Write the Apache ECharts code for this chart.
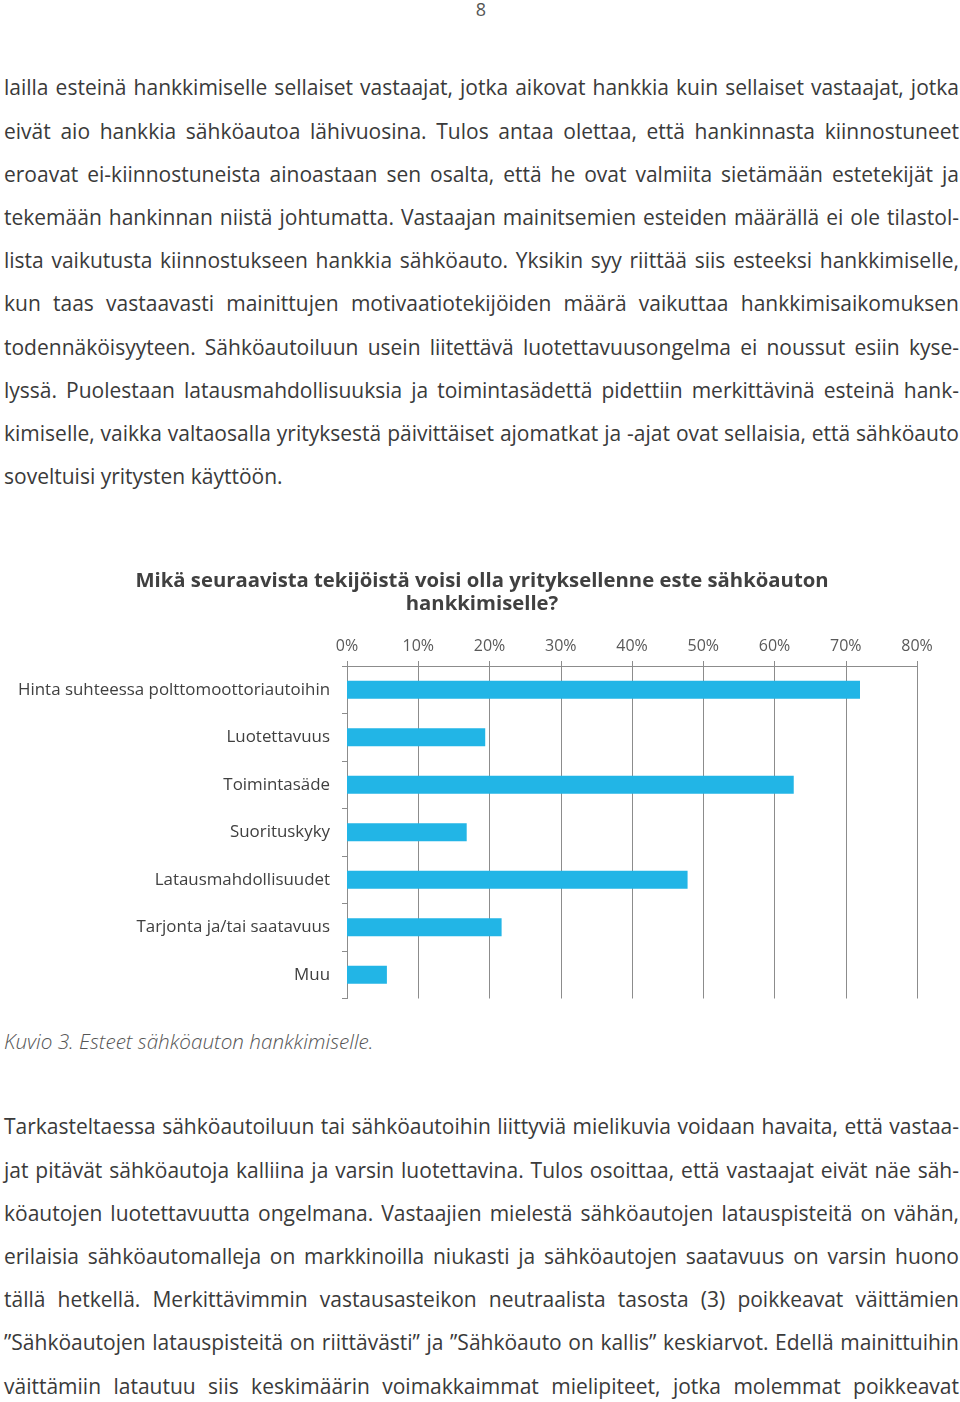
<!DOCTYPE html>
<html>
<head>
<meta charset="utf-8">
<script src="https://cdn.jsdelivr.net/npm/echarts@6/dist/echarts.min.js"></script>
<style>
  html, body { margin: 0; padding: 0; background: #fff; }
  body { width: 960px; height: 1402px; position: relative; overflow: hidden; font-family: 'Open Sans', sans-serif; color: #3a3a3a; }
  .pagenum { position: absolute; top: -2px; left: 0; width: 962px; text-align: center; font-size: 18px; color: #555; line-height: 22px; }
  .para { position: absolute; left: 4px; width: 955px; font-size: 21px; }
  .para .l { height: 43.2px; line-height: 43.2px; white-space: nowrap; text-align: justify; text-align-last: justify; }
  .para .l.last { text-align-last: left; }
  .caption { position: absolute; left: 4px; top: 1026px; font-size: 20.7px; line-height: 30px; font-style: italic; font-weight: 300; color: #555; }
  #chart { position: absolute; left: 0; top: 555px; width: 960px; height: 455px; }
</style>
</head>
<body>
<div class="pagenum">8</div>
<div class="para" id="p1" style="top:66.4px"></div>
<div id="chart"></div>
<div class="caption">Kuvio 3. Esteet sähköauton hankkimiselle.</div>
<div class="para" id="p2" style="top:1105.4px"></div>
<script>
// ---- text content ----
const para1Lines = [
  "lailla esteinä hankkimiselle sellaiset vastaajat, jotka aikovat hankkia kuin sellaiset vastaajat, jotka",
  "eivät aio hankkia sähköautoa lähivuosina. Tulos antaa olettaa, että hankinnasta kiinnostuneet",
  "eroavat ei-kiinnostuneista ainoastaan sen osalta, että he ovat valmiita sietämään estetekijät ja",
  "tekemään hankinnan niistä johtumatta. Vastaajan mainitsemien esteiden määrällä ei ole tilastol-",
  "lista vaikutusta kiinnostukseen hankkia sähköauto. Yksikin syy riittää siis esteeksi hankkimiselle,",
  "kun taas vastaavasti mainittujen motivaatiotekijöiden määrä vaikuttaa hankkimisaikomuksen",
  "todennäköisyyteen. Sähköautoiluun usein liitettävä luotettavuusongelma ei noussut esiin kyse-",
  "lyssä. Puolestaan latausmahdollisuuksia ja toimintasädettä pidettiin merkittävinä esteinä hank-",
  "kimiselle, vaikka valtaosalla yrityksestä päivittäiset ajomatkat ja -ajat ovat sellaisia, että sähköauto",
  "soveltuisi yritysten käyttöön."
];
const para2Lines = [
  "Tarkasteltaessa sähköautoiluun tai sähköautoihin liittyviä mielikuvia voidaan havaita, että vastaa-",
  "jat pitävät sähköautoja kalliina ja varsin luotettavina. Tulos osoittaa, että vastaajat eivät näe säh-",
  "köautojen luotettavuutta ongelmana. Vastaajien mielestä sähköautojen latauspisteitä on vähän,",
  "erilaisia sähköautomalleja on markkinoilla niukasti ja sähköautojen saatavuus on varsin huono",
  "tällä hetkellä. Merkittävimmin vastausasteikon neutraalista tasosta (3) poikkeavat väittämien",
  "”Sähköautojen latauspisteitä on riittävästi” ja ”Sähköauto on kallis” keskiarvot. Edellä mainittuihin",
  "väittämiin latautuu siis keskimäärin voimakkaimmat mielipiteet, jotka molemmat poikkeavat"
];

// ---- chart data ----
const chartTitle = "Mikä seuraavista tekijöistä voisi olla yrityksellenne este sähköauton\nhankkimiselle?";
const categories = [
  "Hinta suhteessa polttomoottoriautoihin",
  "Luotettavuus",
  "Toimintasäde",
  "Suorituskyky",
  "Latausmahdollisuudet",
  "Tarjonta ja/tai saatavuus",
  "Muu"
];
const values = [72.0, 19.4, 62.7, 16.8, 47.8, 21.7, 5.6];
const axisMin = 0, axisMax = 80, axisStep = 10;

function fill(id, lines, lastLeft) {
  const el = document.getElementById(id);
  lines.forEach((t, i) => {
    const d = document.createElement('div');
    d.className = 'l' + (lastLeft && i === lines.length - 1 ? ' last' : '');
    d.textContent = t;
    el.appendChild(d);
  });
}
fill('p1', para1Lines, true);
fill('p2', para2Lines, false);

const chart = echarts.init(document.getElementById('chart'), null, { renderer: 'canvas' });
const gridColor = '#8c8c8c';
chart.setOption({
  animation: false,
  textStyle: { fontFamily: 'Open Sans' },
  title: {
    text: chartTitle,
    left: 477, textAlign: 'center', top: 10,
    textStyle: { fontFamily: 'Open Sans', fontSize: 20.3, fontWeight: 'bold', color: '#404040', lineHeight: 23 }
  },
  grid: { left: 347, right: 43, top: 111, height: 332.5, containLabel: false },
  xAxis: {
    type: 'value', position: 'top', min: axisMin, max: axisMax, interval: axisStep,
    axisLine: { show: true, lineStyle: { color: gridColor, width: 1 } },
    axisTick: { show: true, length: 5, inside: false, lineStyle: { color: gridColor } },
    splitLine: { show: true, lineStyle: { color: gridColor, width: 1 } },
    axisLabel: { formatter: '{value}%', fontSize: 16, color: '#595959', margin: 12, fontFamily: 'Open Sans' }
  },
  yAxis: {
    type: 'category', inverse: true, data: categories,
    axisLine: { show: true, lineStyle: { color: gridColor, width: 1 } },
    axisTick: { show: true, length: 5, inside: false, lineStyle: { color: gridColor } },
    axisLabel: { fontSize: 16.9, color: '#404040', margin: 17, fontFamily: 'Open Sans' },
    splitLine: { show: false }
  },
  series: [{
    type: 'bar', data: values, barWidth: 18,
    itemStyle: { color: '#22B5E6' }
  }]
});
</script>
</body>
</html>
